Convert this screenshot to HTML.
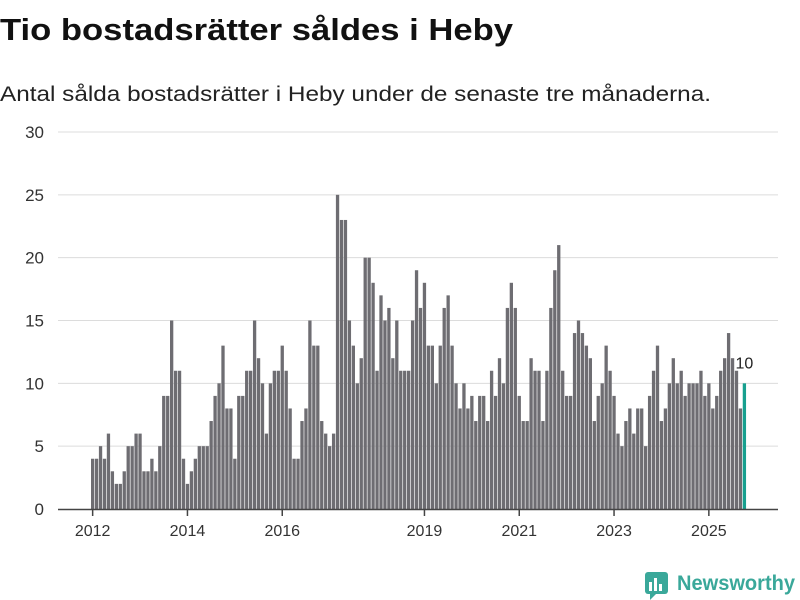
<!DOCTYPE html>
<html><head><meta charset="utf-8">
<style>
body{margin:0;background:#fff;width:800px;height:600px;overflow:hidden;font-family:"Liberation Sans","DejaVu Sans",sans-serif;}
svg{position:absolute;left:0;top:0}
</style></head>
<body>
<svg id="chart" width="800" height="600">
  <text x="0" y="40" font-size="31" font-weight="bold" fill="#111" textLength="513" lengthAdjust="spacingAndGlyphs">Tio bostadsrätter såldes i Heby</text>
  <text x="0" y="101" font-size="21" fill="#222" textLength="711" lengthAdjust="spacingAndGlyphs">Antal sålda bostadsrätter i Heby under de senaste tre månaderna.</text>
  <g id="grid"></g>
  <g id="bars"></g>
  <g id="xaxis"></g>
  <g>
    <rect x="645" y="572" width="23" height="22" rx="3" fill="#3aa89a"/>
    <rect x="649" y="582" width="3" height="9" fill="#fff"/>
    <rect x="654" y="578" width="3" height="13" fill="#fff"/>
    <rect x="659" y="584" width="3" height="7" fill="#fff"/>
    <polygon points="650,594 656,594 650,600" fill="#3aa89a"/>
    <text x="677" y="590" font-size="21" font-weight="bold" fill="#3aa89a" textLength="118" lengthAdjust="spacingAndGlyphs">Newsworthy</text>
  </g>
</svg>
<script>
const values = [4,4,5,4,6,3,2,2,3,5,5,6,6,3,3,4,3,5,9,9,15,11,11,4,2,3,4,5,5,
5,7,9,10,13,8,8,4,9,9,11,11,15,12,10,6,10,11,11,13,11,8,4,4,7,8,15,13,13,
7,6,5,6,25,23,23,15,13,10,12,20,20,18,11,17,15,16,12,15,11,11,11,15,19,16,18,13,13,10,
13,16,17,13,10,8,10,8,9,7,9,9,7,11,9,12,10,16,18,16,9,7,7,12,11,11,7,
11,16,19,21,11,9,9,14,15,14,13,12,7,9,10,13,11,9,6,5,7,8,6,8,8,5,
9,11,13,7,8,10,12,10,11,9,10,10,10,11,9,10,8,9,11,12,14,12,11,8,10];
const startYear = 2012;
const yTicks = [0,5,10,15,20,25,30];
const xTickYears = [2012,2014,2016,2019,2021,2023,2025];

const NS='http://www.w3.org/2000/svg';
const step=3.95, x0=91, bw=3.3;
function xs(i){return x0+step*i;}
function ys(v){return 509-v*12.567;}
function mk(tag,attrs,parent){const e=document.createElementNS(NS,tag);for(const k in attrs)e.setAttribute(k,attrs[k]);parent.appendChild(e);return e;}

const grid=document.getElementById('grid');
yTicks.forEach(t=>{
  if(t>0){
    const l=mk('line',{x1:58,x2:778,y1:ys(t),y2:ys(t),stroke:'#dcdcdc','stroke-width':1},grid);
    
    
  }
  const tx=mk('text',{x:44,y:ys(t)+6,'font-size':17,'text-anchor':'end',fill:'#333'},grid);
  tx.textContent=t;
  
  
});

const bars=document.getElementById('bars');
values.forEach((v,i)=>{
  const last=i===values.length-1;
  const r=mk('rect',{x:xs(i),y:ys(v),width:bw,height:ys(0)-ys(v),fill:last?'#17a08f':'#6e6d72'},bars);
  
  
  if(last){
    const t=mk('text',{x:xs(i)+bw/2,y:ys(v)-15,'font-size':16,'text-anchor':'middle',fill:'#222'},bars);
    t.textContent=v;
    
    
  }
});

const xa=document.getElementById('xaxis');
const base=mk('line',{x1:58,x2:778,y1:509.5,y2:509.5,stroke:'#444','stroke-width':1.5},xa);


xTickYears.forEach(yr=>{
  const i=(yr-startYear)*12;
  const cx=xs(i)+bw/2;
  const tk=mk('line',{x1:cx,x2:cx,y1:509,y2:516,stroke:'#444','stroke-width':1.5},xa);
  
  
  const t=mk('text',{x:cx,y:536,'font-size':16,'text-anchor':'middle',fill:'#333'},xa);
  t.textContent=yr;
  
  
});
</script>
</body></html>
